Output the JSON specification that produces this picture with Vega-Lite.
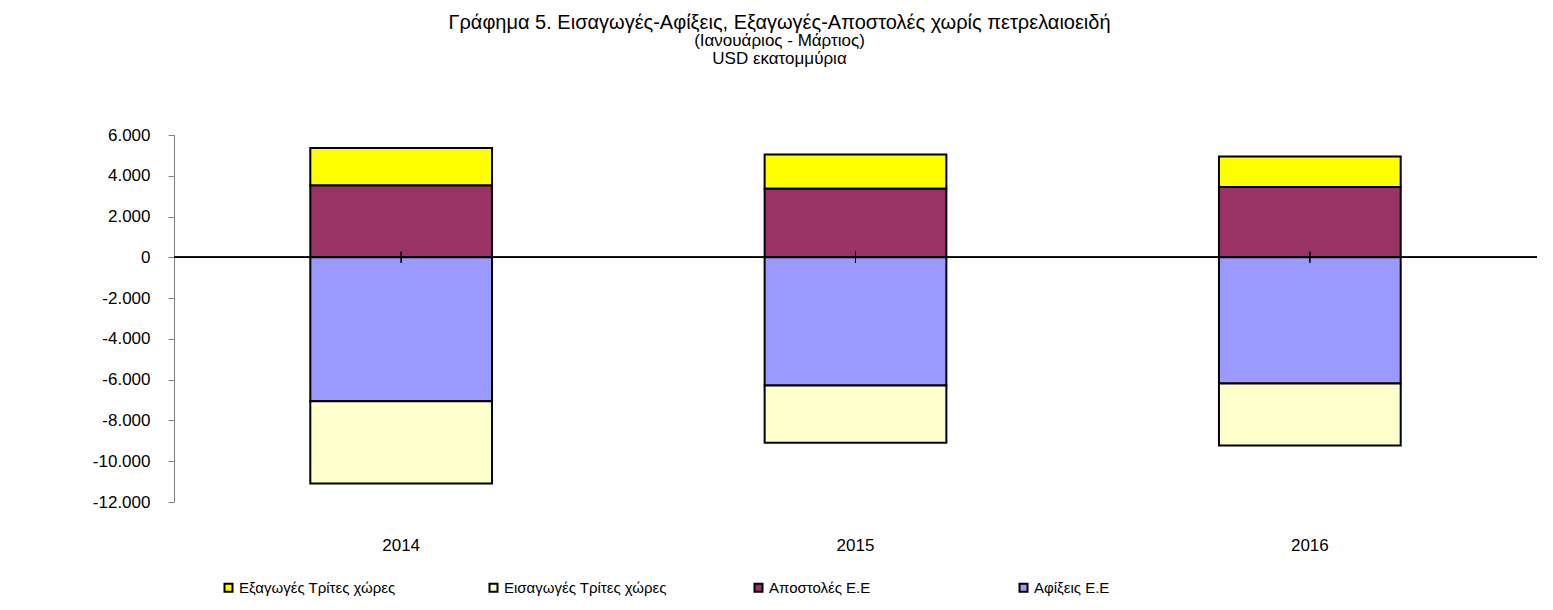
{
  "$schema": "https://vega.github.io/schema/vega-lite/v6.json",
  "width": 1363,
  "height": 367,
  "autosize": {"type": "none"},
  "padding": {"left": 174, "top": 135, "right": 16, "bottom": 108},
  "background": "white",
  "config": {"view": {"stroke": null}, "font": "Liberation Sans"},
  "title": {
    "text": "Γράφημα 5. Εισαγωγές-Αφίξεις,  Εξαγωγές-Αποστολές χωρίς πετρελαιοειδή",
    "subtitle": ["(Ιανουάριος - Μάρτιος)", "USD εκατομμύρια"],
    "fontSize": 20,
    "fontWeight": "normal",
    "font": "Liberation Sans",
    "color": "black",
    "subtitleFontSize": 17,
    "subtitleFont": "Liberation Sans",
    "subtitleColor": "black",
    "subtitleLineHeight": 18,
    "subtitlePadding": 0,
    "anchor": "middle",
    "dx": -76,
    "offset": 59
  },
  "data": {
    "values": [
      {"year": "2014", "series": "Εξαγωγές Τρίτες χώρες", "value": 1834},
      {"year": "2014", "series": "Αποστολές  Ε.Ε", "value": 3529},
      {"year": "2014", "series": "Αφίξεις Ε.Ε", "value": -7059},
      {"year": "2014", "series": "Εισαγωγές Τρίτες χώρες", "value": -4034},
      {"year": "2015", "series": "Εξαγωγές Τρίτες χώρες", "value": 1681},
      {"year": "2015", "series": "Αποστολές  Ε.Ε", "value": 3368},
      {"year": "2015", "series": "Αφίξεις Ε.Ε", "value": -6289},
      {"year": "2015", "series": "Εισαγωγές Τρίτες χώρες", "value": -2809},
      {"year": "2016", "series": "Εξαγωγές Τρίτες χώρες", "value": 1500},
      {"year": "2016", "series": "Αποστολές  Ε.Ε", "value": 3451},
      {"year": "2016", "series": "Αφίξεις Ε.Ε", "value": -6191},
      {"year": "2016", "series": "Εισαγωγές Τρίτες χώρες", "value": -3039}
    ]
  },
  "encoding": {
    "x": {
      "field": "year",
      "type": "nominal",
      "scale": {"paddingInner": 0, "paddingOuter": 0},
      "axis": {"title": null, "labelAngle": 0, "domain": false, "ticks": false, "labelPadding": 35, "labelFontSize": 17, "labelColor": "black"}
    }
  },
  "layer": [
    {
      "mark": {"type": "bar", "stroke": "black", "strokeWidth": 2, "width": {"band": 0.4}},
      "encoding": {
        "y": {
          "field": "value",
          "type": "quantitative",
          "stack": "zero",
          "scale": {"domain": [-12000, 6000], "nice": false},
          "axis": {
            "title": null,
            "values": [-12000, -10000, -8000, -6000, -4000, -2000, 0, 2000, 4000, 6000],
            "labelExpr": "replace(replace(format(datum.value, ','), ',', '.'), '−', '-')",
            "grid": false,
            "domainColor": "#808080",
            "tickColor": "#808080",
            "tickSize": 6,
            "labelFontSize": 17,
            "labelColor": "black",
            "labelPadding": 18
          }
        },
        "color": {
          "field": "series",
          "type": "nominal",
          "scale": {
            "domain": ["Εξαγωγές Τρίτες χώρες", "Εισαγωγές Τρίτες χώρες", "Αποστολές  Ε.Ε", "Αφίξεις Ε.Ε"],
            "range": ["#FFFF00", "#FFFFCC", "#993366", "#9999FF"]
          },
          "legend": {
            "title": null,
            "orient": "none",
            "legendX": 47,
            "legendY": 445,
            "direction": "horizontal",
            "columns": 4,
            "gridAlign": "all",
            "columnPadding": 83,
            "symbolType": "square",
            "symbolSize": 64,
            "symbolStrokeColor": "black",
            "symbolStrokeWidth": 2,
            "symbolOffset": 0,
            "labelOffset": 3,
            "labelFontSize": 15,
            "labelColor": "black",
            "labelLimit": 400
          }
        },
        "order": {"field": "series", "sort": "ascending"}
      }
    },
    {
      "mark": {"type": "rule", "color": "black", "strokeWidth": 1},
      "encoding": {"x": null, "y": {"datum": 0}}
    },
    {
      "mark": {"type": "tick", "orient": "vertical", "color": "black", "size": 11, "thickness": 1},
      "encoding": {"y": {"datum": 0}}
    }
  ]
}
